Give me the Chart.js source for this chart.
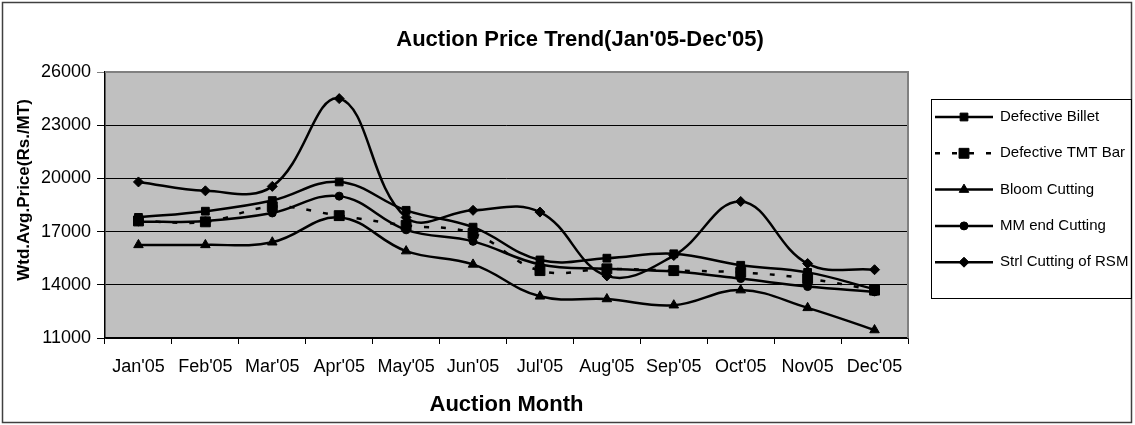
<!DOCTYPE html>
<html>
<head>
<meta charset="utf-8">
<title>Auction Price Trend</title>
<script src="https://cdn.jsdelivr.net/npm/chart.js@4.4.1/dist/chart.umd.min.js"></script>
<style>
    html, body { margin: 0; padding: 0; background: #ffffff; }
    #wrap { width: 1135px; height: 425px; }
</style>
</head>
<body>
<div id="wrap"><canvas id="auctionChart" width="1135" height="425"></canvas></div>
<script>
// ======================================================
// DATA (Rs./MT, weighted average auction price)
// ======================================================
const months = ["Jan'05", "Feb'05", "Mar'05", "Apr'05", "May'05", "Jun'05",
                "Jul'05", "Aug'05", "Sep'05", "Oct'05", "Nov05", "Dec'05"];

const defectiveBillet = [17800, 18150, 18750, 19800, 18200, 17250, 15400, 15500, 15750, 15100, 14700, 13750];
const defectiveTmtBar = [17600, 17550, 18400, 17900, 17350, 16900, 14800, 14900, 14800, 14700, 14350, 13700];
const bloomCutting    = [16250, 16250, 16400, 17800, 15900, 15150, 13350, 13200, 12850, 13700, 12700, 11450];
const mmEndCutting    = [17550, 17600, 18050, 19000, 17100, 16450, 15150, 14900, 14750, 14350, 13900, 13600];
const strlCuttingRsm  = [19800, 19300, 19550, 24500, 17800, 18200, 18100, 14500, 15650, 18700, 15200, 14850];

const seriesNames = ["Defective Billet", "Defective TMT Bar", "Bloom Cutting", "MM end Cutting", "Strl Cutting of RSM"];
const yTicks = [11000, 14000, 17000, 20000, 23000, 26000];

const FONT = "'Liberation Sans', Arial, sans-serif";


// ======================================================
// PLUGIN: plot background, borders, titles, legend box
// ======================================================
const excelLook = {

    id: "excelLook",

    beforeDraw(chart) {
        const { ctx, chartArea: a } = chart;
        ctx.save();
        ctx.fillStyle = "#c0c0c0";
        ctx.fillRect(a.left, a.top, a.right - a.left, a.bottom - a.top);
        ctx.restore();
    },

    afterDraw(chart) {
        const { ctx, chartArea: a } = chart;
        ctx.save();

        // plot area top/right edge
        ctx.strokeStyle = "#808080";
        ctx.lineWidth = 2;
        ctx.beginPath();
        ctx.moveTo(a.left, a.top);
        ctx.lineTo(a.right, a.top);
        ctx.lineTo(a.right, a.bottom);
        ctx.stroke();

        // outer chart border
        ctx.strokeStyle = "#404040";
        ctx.lineWidth = 1.5;
        ctx.strokeRect(2.5, 2.5, 1129, 420);

        // chart title
        ctx.fillStyle = "#000";
        ctx.textAlign = "center";
        ctx.textBaseline = "middle";
        ctx.font = "bold 22px " + FONT;
        ctx.fillText("Auction Price Trend(Jan'05-Dec'05)", 580, 40);

        // y axis title
        ctx.save();
        ctx.translate(24, 190);
        ctx.rotate(-Math.PI / 2);
        ctx.font = "bold 17px " + FONT;
        ctx.fillText("Wtd.Avg.Price(Rs./MT)", 0, 0);
        ctx.restore();

        // legend
        ctx.strokeStyle = "#000";
        ctx.lineWidth = 1;
        ctx.strokeRect(931.5, 99.5, 200, 199);

        chart.data.datasets.forEach((ds, i) => {
            const y = 117 + i * 36.3;
            ctx.save();
            ctx.strokeStyle = "#000";
            ctx.lineWidth = ds.borderWidth;
            ctx.setLineDash(ds.borderDash || []);
            ctx.beginPath();
            ctx.moveTo(935, y);
            ctx.lineTo(993, y);
            ctx.stroke();
            ctx.restore();

            ctx.fillStyle = "#000";
            ctx.strokeStyle = "#000";
            Chart.helpers.drawPoint(ctx, {
                pointStyle: ds.pointStyle,
                radius: ds.pointRadius,
                rotation: 0,
                borderWidth: 1
            }, 964, y);

            ctx.fillStyle = "#000";
            ctx.textAlign = "left";
            ctx.textBaseline = "middle";
            ctx.font = "15px " + FONT;
            ctx.fillText(ds.label, 1000, y);
        });

        ctx.restore();
    }
};


// ======================================================
// LINE CHART
// ======================================================
function makeSeries(label, data, pointStyle, radius, dash) {
    return {
        label: label,
        data: data,
        borderColor: "#000",
        backgroundColor: "#000",
        pointBackgroundColor: "#000",
        pointBorderColor: "#000",
        pointBorderWidth: 1,
        borderWidth: 2.5,
        borderDash: dash,
        pointStyle: pointStyle,
        pointRadius: radius,
        tension: 0.4,
        fill: false
    };
}

const ctx = document.getElementById("auctionChart");

new Chart(ctx, {

    type: "line",

    data: {
        labels: months,
        datasets: [
            makeSeries(seriesNames[0], defectiveBillet, "rect", 5.5, []),
            makeSeries(seriesNames[1], defectiveTmtBar, "rect", 7, [5, 12]),
            makeSeries(seriesNames[2], bloomCutting, "triangle", 5.5, []),
            makeSeries(seriesNames[3], mmEndCutting, "circle", 4, []),
            makeSeries(seriesNames[4], strlCuttingRsm, "rectRot", 5, [])
        ]
    },

    options: {

        responsive: false,
        devicePixelRatio: 1,
        animation: false,

        layout: {
            padding: { top: 72, right: 227, bottom: 0, left: 0 }
        },

        plugins: {
            legend: { display: false },
            title: { display: false },
            tooltip: { enabled: false }
        },

        scales: {

            x: {
                offset: true,
                afterFit(scale) { scale.height = 87; },
                grid: {
                    offset: true,
                    drawOnChartArea: false,
                    tickLength: 6,
                    color: "#000"
                },
                border: { color: "#000", width: 1.5 },
                ticks: {
                    color: "#000",
                    font: { family: FONT, size: 18 },
                    padding: 12,
                    maxRotation: 0,
                    autoSkip: false
                },
                title: {
                    display: true,
                    text: "Auction Month",
                    color: "#000",
                    font: { family: FONT, size: 22, weight: "bold" },
                    padding: { top: 0, bottom: 7 }
                }
            },

            y: {
                min: 11000,
                max: 26000,
                afterFit(scale) { scale.width = 105; },
                afterBuildTicks(scale) {
                    scale.ticks = yTicks.map(v => ({ value: v }));
                },
                grid: {
                    tickLength: 8,
                    color: (c) => (c.tick && c.tick.value === 26000) ? "#808080" : "#000",
                    lineWidth: 1
                },
                border: { color: "#000", width: 1.5 },
                ticks: {
                    color: "#000",
                    font: { family: FONT, size: 18 },
                    padding: 6,
                    callback: (v) => String(v)
                }
            }
        }
    },

    plugins: [excelLook]
});
</script>
</body>
</html>
